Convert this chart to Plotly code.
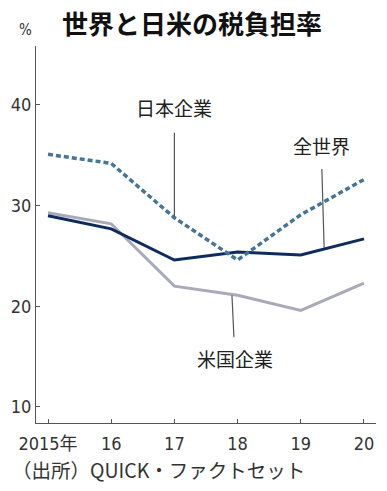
import plotly.graph_objects as go

years = [2015, 2016, 2017, 2018, 2019, 2020]
tick_labels = ["2015年", "16", "17", "18", "19", "20"]
japan = [35.1, 34.2, 28.8, 24.6, 29.1, 32.6]
world = [29.0, 27.7, 24.6, 25.4, 25.1, 26.7]
usa = [29.3, 28.2, 22.0, 21.1, 19.6, 22.3]

W, H = 387, 491
ML, MR, MT, MB = 36, 11, 46, 68

FONT = "DejaVu Sans Condensed, Noto Sans CJK JP, sans-serif"
CJK = "Noto Sans CJK JP, sans-serif"

fig = go.Figure()
fig.add_trace(go.Scatter(x=years, y=usa, mode="lines",
                         line=dict(color="#a9aab9", width=3)))
fig.add_trace(go.Scatter(x=years, y=world, mode="lines",
                         line=dict(color="#0f2a5c", width=3)))
fig.add_trace(go.Scatter(x=years, y=japan, mode="lines",
                         line=dict(color="#457597", width=3.5, dash="5px,3px")))

def px2paper_x(px):
    return (px - ML) / (W - ML - MR)

def px2paper_y(py):
    return (H - MB - py) / (H - MT - MB)

ann = []
# series labels with leader lines
ann.append(dict(x=2017, y=japan[2], xref="x", yref="y", text="日本企業",
                showarrow=True, arrowhead=0, arrowwidth=1.2, arrowcolor="#555",
                ax=0, ay=-110, startstandoff=10, standoff=1,
                font=dict(family=CJK, size=19, color="#222")))
ann.append(dict(x=2019.37, y=25.7, xref="x", yref="y", text="全世界",
                showarrow=True, arrowhead=0, arrowwidth=1.2, arrowcolor="#555",
                ax=-3, ay=-103, startstandoff=8, standoff=1,
                font=dict(family=CJK, size=19, color="#222")))
ann.append(dict(x=2017.91, y=21.2, xref="x", yref="y", text="米国企業",
                showarrow=True, arrowhead=0, arrowwidth=1.2, arrowcolor="#555",
                ax=3, ay=64, startstandoff=6, standoff=1,
                font=dict(family=CJK, size=19, color="#222")))
# title, unit and source
ann.append(dict(x=px2paper_x(192), y=px2paper_y(23), xref="paper", yref="paper",
                text="<b>世界と日米の税負担率</b>", showarrow=False,
                xanchor="center", yanchor="middle",
                font=dict(family=CJK, size=26, color="#111")))
ann.append(dict(x=px2paper_x(25), y=px2paper_y(30), xref="paper", yref="paper",
                text="%", showarrow=False, xanchor="center", yanchor="middle",
                font=dict(family=FONT, size=15, color="#333")))
ann.append(dict(x=px2paper_x(10), y=px2paper_y(469), xref="paper", yref="paper",
                text="（出所）QUICK・ファクトセット", showarrow=False,
                xanchor="left", yanchor="middle",
                font=dict(family=CJK, size=19.5, color="#333")))

fig.update_layout(
    width=W, height=H,
    margin=dict(l=ML, r=MR, t=MT, b=MB, autoexpand=False),
    paper_bgcolor="white", plot_bgcolor="white",
    showlegend=False,
    annotations=ann,
    xaxis=dict(range=[2014.81, 2020.19], tickvals=years, ticktext=tick_labels,
               showline=True, linecolor="#555", linewidth=1.2,
               ticks="inside", ticklen=4, tickcolor="#555", showgrid=False,
               zeroline=False, automargin=False,
               tickfont=dict(family=FONT, size=18, color="#333"),
               ticklabelstandoff=4),
    yaxis=dict(range=[8.41, 45.86], tickvals=[10, 20, 30, 40],
               showline=True, linecolor="#555", linewidth=1.2,
               ticks="inside", ticklen=4, tickcolor="#555", showgrid=False,
               zeroline=False, automargin=False,
               tickfont=dict(family=FONT, size=18, color="#333")),
)

fig.write_html("out.html",
               config={"displayModeBar": False},
               post_script="document.body.style.margin='0';document.body.style.overflow='hidden';")
